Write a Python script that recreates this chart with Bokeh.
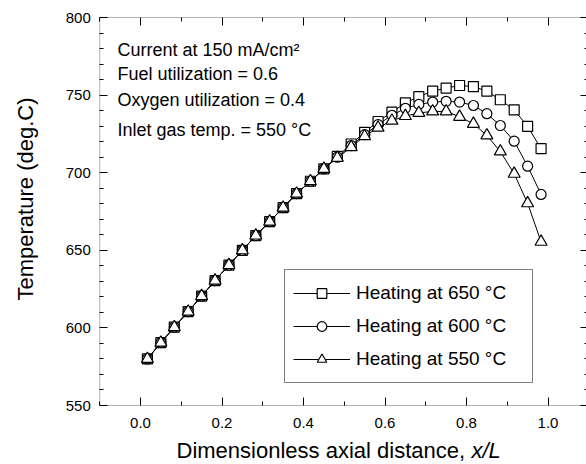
import math
from bokeh.plotting import figure
from bokeh.models import (LinearAxis, FixedTicker, Range1d, Label, Legend, LegendItem,
                          CustomJSTickFormatter, NumeralTickFormatter, BoxAnnotation)
from bokeh.embed import file_html
from bokeh.resources import INLINE

# ---- data ----
x_over_L = [0.017, 0.050, 0.083, 0.117, 0.150, 0.183, 0.217, 0.250, 0.283, 0.317,
            0.350, 0.383, 0.417, 0.450, 0.483, 0.517, 0.550, 0.583, 0.617, 0.650,
            0.683, 0.717, 0.750, 0.783, 0.817, 0.850, 0.883, 0.917, 0.950, 0.983]

temp_650 = [580, 590.5, 600.5, 610.5, 620.5, 630.5, 640.5, 650, 659.5, 668.5,
            677.5, 686.5, 694.5, 702.5, 710.5, 718.5, 726, 733, 739, 745,
            749, 752.5, 754.5, 756.2, 755.5, 752.5, 747, 740.5, 729.8, 715.5]
temp_600 = [580, 590.5, 600.5, 610.5, 620.5, 630.5, 640.5, 650, 659.5, 668.5,
            677.5, 686.5, 694.5, 702.5, 710, 717.5, 724.5, 731, 737, 741.5,
            744, 745.5, 746, 745.5, 743.3, 738, 730.4, 720.3, 704.2, 686]
temp_550 = [580, 590.5, 600.5, 610.5, 620.5, 630.5, 640.5, 650, 659.5, 668.5,
            677.5, 686.5, 694.5, 702.5, 709.5, 716.5, 723.5, 729, 733.5, 736.5,
            738.5, 739.5, 739.5, 736, 731.5, 724, 713.7, 699.3, 680.3, 655.5]

series_labels = ["Heating at 650 °C", "Heating at 600 °C", "Heating at 550 °C"]
series_markers = ["square", "circle", "triangle"]
series_sizes = [10, 10, 12]

x_major = [0.0, 0.2, 0.4, 0.6, 0.8, 1.0]
x_minor = [-0.1, 0.1, 0.3, 0.5, 0.7, 0.9, 1.1]
y_major = [550, 600, 650, 700, 750, 800]
y_minor = [560, 570, 580, 590, 610, 620, 630, 640, 660, 670, 680, 690,
           710, 720, 730, 740, 760, 770, 780, 790]
x_lim = (-0.1, 1.1)
y_lim = (550, 800)

notes = ["Current at 150 mA/cm²", "Fuel utilization = 0.6",
         "Oxygen utilization = 0.4", "Inlet gas temp. = 550 °C"]
y_title = "Temperature (deg.C)"
x_title_plain = "Dimensionless axial distance, "
x_title_italic = "x/L"

FONT = "Liberation Sans"
W, H = 586, 464
# pixel layout of the plot box (canvas coords, top-down)
PX0, PX1 = 140.0, 547.5     # pixels of x = 0 and x = 1
PY800, PY550 = 17.0, 405.0  # pixels of y = 800 and y = 550
sx = (PX1 - PX0)
sy = (PY550 - PY800) / (y_lim[1] - y_lim[0])
xr = Range1d(-PX0 / sx, (W - PX0) / sx)
yr = Range1d(y_lim[0] - (H - PY550) / sy, y_lim[1] + PY800 / sy)

p = figure(width=W, height=H, x_range=xr, y_range=yr, output_backend="svg",
           toolbar_location=None, x_axis_location=None, y_axis_location=None,
           min_border=0, min_border_left=0, min_border_right=0,
           min_border_top=0, min_border_bottom=0)
p.outline_line_color = None
p.grid.visible = False
p.background_fill_color = "white"
p.border_fill_color = "white"

frame_box = BoxAnnotation(left=x_lim[0], right=x_lim[1], bottom=y_lim[0], top=y_lim[1],
                          fill_alpha=0, line_color="black", line_width=1)
p.add_layout(frame_box)

blank = CustomJSTickFormatter(code="return ''")


def make_axis(loc, ticker, labels):
    ax = LinearAxis(ticker=ticker, fixed_location=loc)
    ax.major_tick_in = 8
    ax.major_tick_out = 0
    ax.minor_tick_in = 4
    ax.minor_tick_out = 0
    ax.axis_line_color = None
    ax.major_tick_line_color = "black"
    ax.minor_tick_line_color = "black"
    ax.major_label_text_font = FONT
    ax.major_label_text_font_size = "15px"
    ax.major_label_text_color = "black"
    if not labels:
        ax.formatter = blank
        ax.major_label_text_font_size = "0px"
        ax.major_label_standoff = 0
    return ax


xt = FixedTicker(ticks=x_major, minor_ticks=x_minor)
yt = FixedTicker(ticks=y_major, minor_ticks=y_minor)

bottom = make_axis(y_lim[0], xt, True)
bottom.formatter = NumeralTickFormatter(format="0.0")
bottom.major_label_standoff = 12
p.add_layout(bottom, "below")

top = make_axis(y_lim[1], xt, False)
p.add_layout(top, "above")

left = make_axis(x_lim[0], yt, True)
left.major_label_standoff = 9
p.add_layout(left, "left")

right = make_axis(x_lim[1], yt, False)
p.add_layout(right, "right")

items = []
for ys, lab, mk, sz in zip([temp_650, temp_600, temp_550], series_labels, series_markers, series_sizes):
    ln = p.line(x_over_L, ys, line_color="black", line_width=1)
    sc = p.scatter(x_over_L, ys, marker=mk, size=sz, fill_color="white",
                   line_color="black", line_width=1.2)
    items.append(LegendItem(label=lab, renderers=[ln, sc]))

legend = Legend(items=items, location=(284, H - 383), padding=8, spacing=3,
                glyph_width=57, glyph_height=24, label_height=30, label_width=168,
                label_standoff=6, label_text_font=FONT, label_text_font_size="19px",
                label_text_color="black", border_line_color="black", border_line_width=1,
                background_fill_color="white", background_fill_alpha=1.0, margin=0)
p.add_layout(legend, "center")

note_y = [49, 73, 99, 129]
for t, yy in zip(notes, note_y):
    p.add_layout(Label(x=117, y=H - yy, x_units="screen", y_units="screen", text=t,
                       text_font=FONT, text_font_size="18px", text_baseline="middle",
                       text_color="black"))

p.add_layout(Label(x=25, y=H - 198.5, x_units="screen", y_units="screen", text=y_title,
                   angle=90, angle_units="deg", text_align="center", text_baseline="middle",
                   text_font=FONT, text_font_size="22px", text_color="black"))
p.add_layout(Label(x=176, y=H - 450, x_units="screen", y_units="screen",
                   text=x_title_plain, text_font=FONT, text_font_size="22px",
                   text_baseline="middle", text_color="black"))
p.add_layout(Label(x=471, y=H - 450, x_units="screen", y_units="screen",
                   text=x_title_italic, text_font=FONT, text_font_style="italic",
                   text_font_size="22px", text_baseline="middle", text_color="black"))

open("out.html", "w").write(file_html(p, INLINE))
